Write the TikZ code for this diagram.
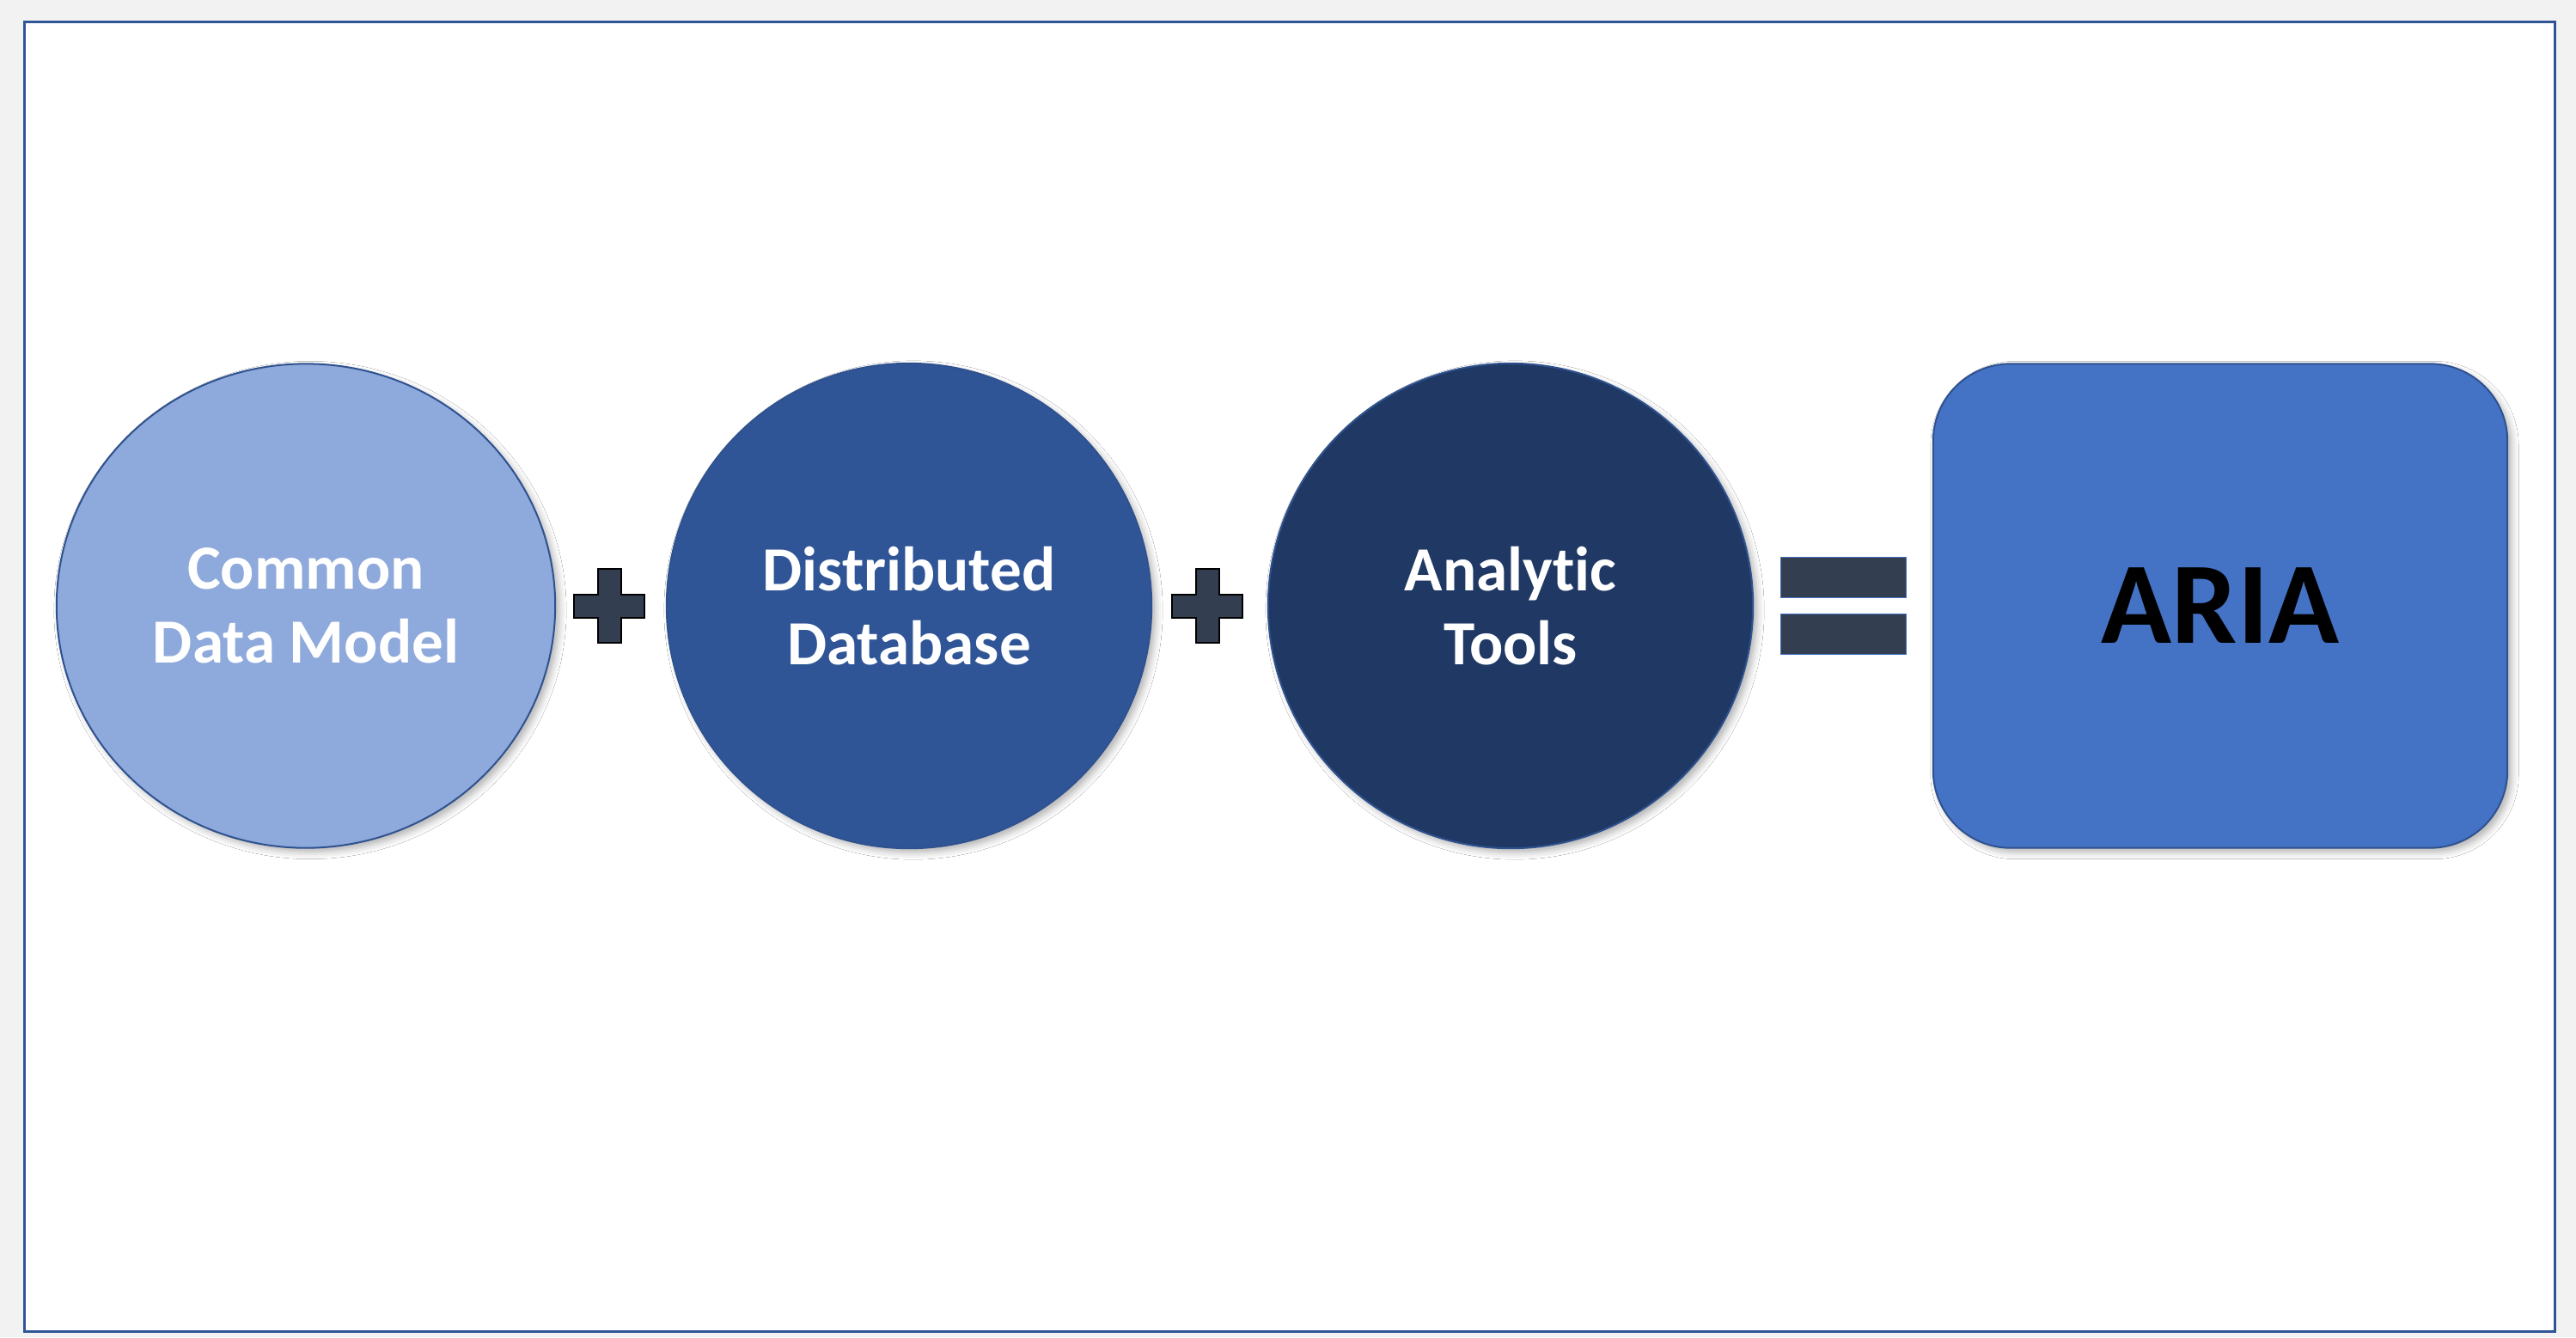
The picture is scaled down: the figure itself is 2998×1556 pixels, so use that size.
\documentclass[tikz,border=0pt]{standalone}
\usepackage{fontspec}
\setmainfont{Carlito}[Ligatures={NoCommon}]
\usetikzlibrary{shapes.geometric,shadows.blur}
\definecolor{pagegray}{HTML}{F2F2F2}
\definecolor{framecol}{HTML}{2F5597}
\definecolor{lightblue}{HTML}{8EA9DB}
\definecolor{midblue}{HTML}{2F5597}
\definecolor{darkblue}{HTML}{203864}
\definecolor{ariablue}{HTML}{4472C4}
\definecolor{edgeblue}{HTML}{2F528F}
\definecolor{slate}{HTML}{333F50}
\tikzset{
  softshadow/.style={blur shadow={shadow xshift=0.05cm, shadow yshift=-0.05cm, shadow blur radius=0.08cm, shadow opacity=30}},
  bubble/.style={circle, minimum size=5.64cm, inner sep=0pt, draw=edgeblue, line width=0.02cm, text=white, align=center,
    font=\fontsize{20.8pt}{24.5pt}\selectfont\bfseries, softshadow},
  ariabox/.style={rectangle, rounded corners=0.9cm, minimum width=6.68cm, minimum height=5.63cm, inner sep=0pt,
    draw=edgeblue, line width=0.02cm, fill=ariablue, text=black, font=\fontsize{38.5pt}{40pt}\selectfont\bfseries, softshadow},
  plusstyle/.style={fill=slate, draw=black, line width=0.02cm},
  eqbar/.style={rectangle, minimum width=1.45cm, minimum height=0.47cm, inner sep=0pt, fill=slate, draw=ariablue, line width=0.01cm},
  plussign/.pic={
    \filldraw[plusstyle] (-13.5,-43) -- (13.5,-43) -- (13.5,-13.5) -- (41,-13.5) -- (41,13.5) -- (13.5,13.5)
      -- (13.5,43) -- (-13.5,43) -- (-13.5,13.5) -- (-41,13.5) -- (-41,-13.5) -- (-13.5,-13.5) -- cycle;
  }
}
\begin{document}
\begin{tikzpicture}[x=0.01cm, y=-0.01cm]
  \useasboundingbox (0,0) rectangle (2998,1556);
  \fill[pagegray] (0,0) rectangle (2998,1556);
  \filldraw[fill=white, draw=framecol, line width=0.03cm] (28.5,25.5) rectangle (2973,1549);

  \node[bubble, ellipse, minimum width=5.80cm, minimum height=5.63cm, fill=lightblue] (cdm) at (356,705) {Common\\Data Model};
  \node[bubble, fill=midblue] (ddb) at (1058,705) {Distributed\\Database};
  \node[bubble, fill=darkblue] (at) at (1758,705) {Analytic\\Tools};
  \node[ariabox] (aria) at (2584,705) {ARIA};

  \coordinate (plusA) at (709,705);
  \coordinate (plusB) at (1405,705);
  \pic at (plusA) {plussign};
  \pic at (plusB) {plussign};

  \node[eqbar] (eqtop) at (2145.5,671.5) {};
  \node[eqbar] (eqbot) at (2145.5,738) {};
\end{tikzpicture}
\end{document}
